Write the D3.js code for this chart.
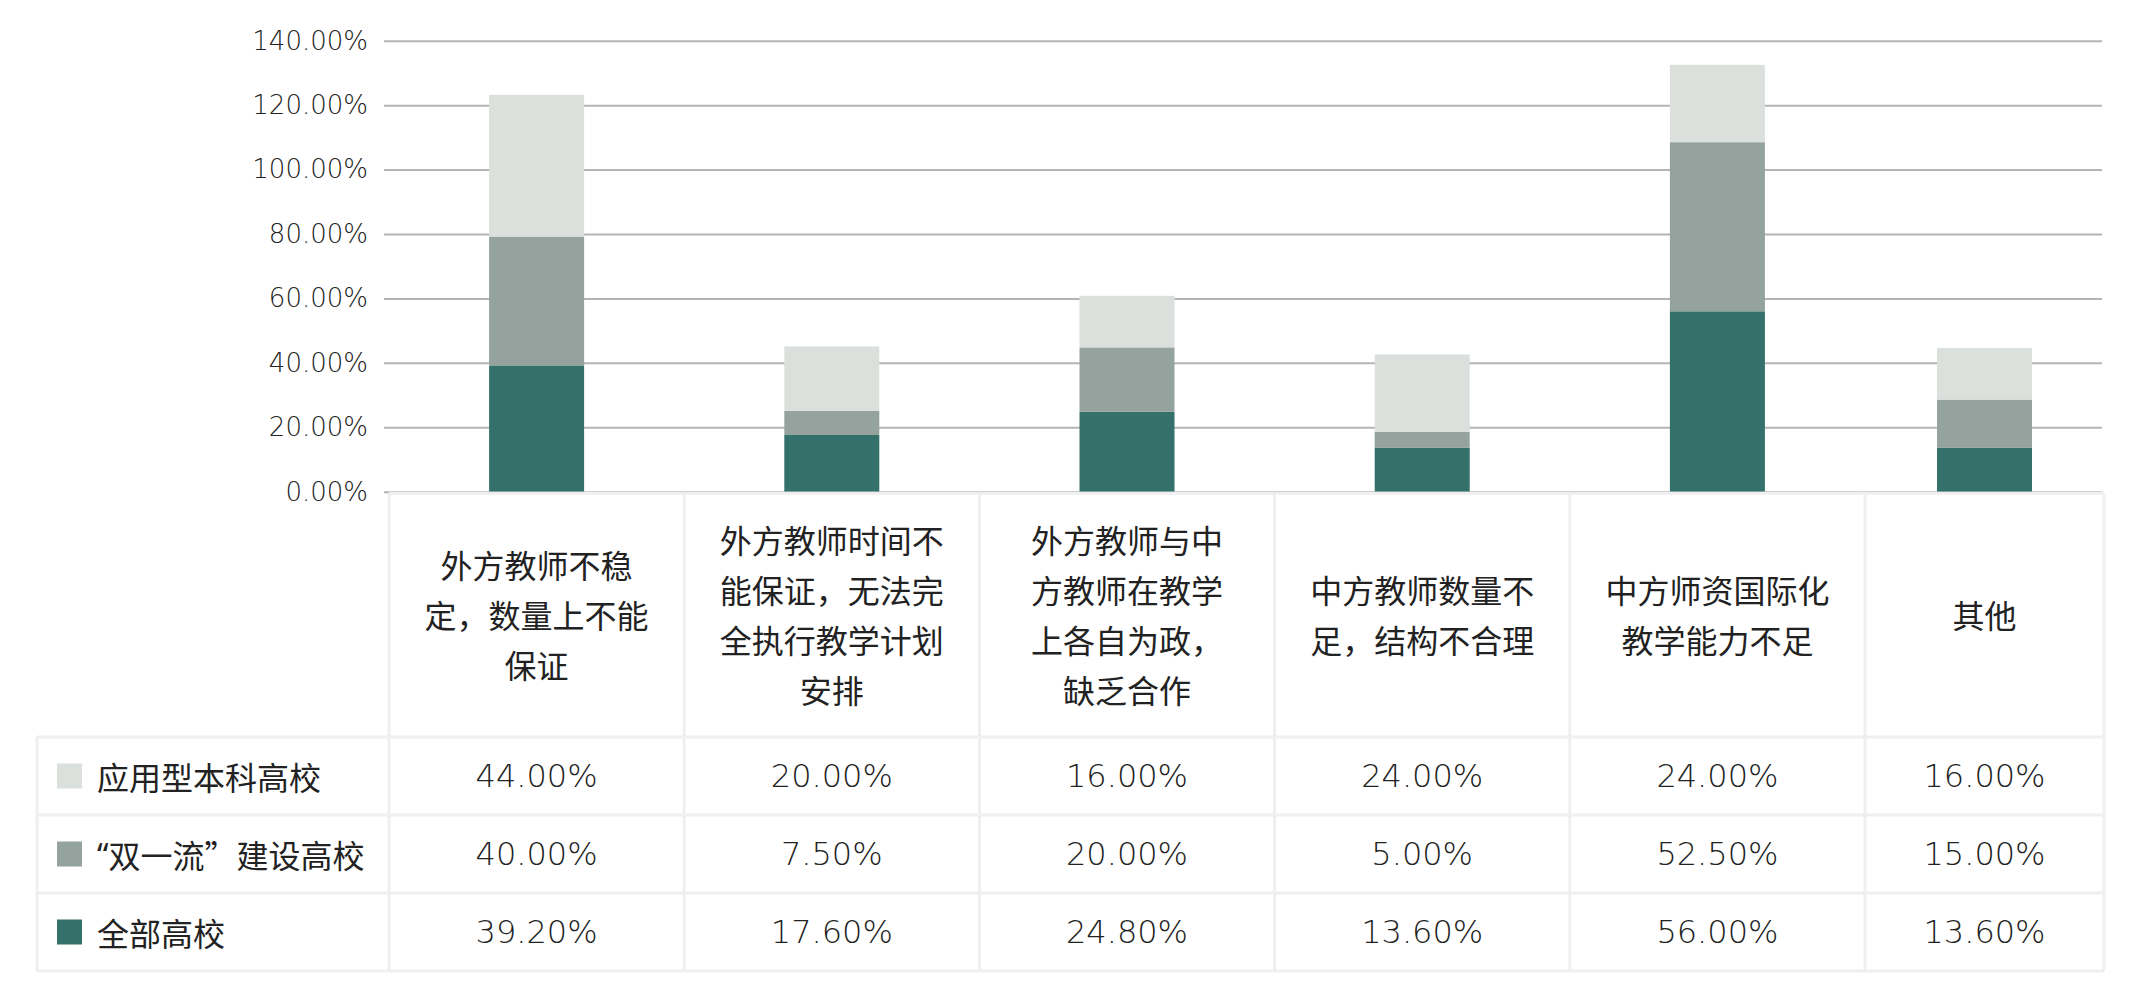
<!DOCTYPE html>
<html>
<head>
<meta charset="utf-8">
<script src="https://cdn.jsdelivr.net/npm/d3@7"></script>
<style>
  body { margin: 0; background: #fff; }
  svg { display: block; }
  .cjk { font-family: "Noto Sans CJK SC", sans-serif; }
  .num { font-family: "DejaVu Sans", sans-serif; font-weight: 300; }
</style>
</head>
<body>
<svg id="chart" width="2133" height="990"></svg>
<script>
// categories, one line per row in the header cell
let categoryLines = [
    ["外方教师不稳", "定，数量上不能", "保证"],
    ["外方教师时间不", "能保证，无法完", "全执行教学计划", "安排"],
    ["外方教师与中", "方教师在教学", "上各自为政，", "缺乏合作"],
    ["中方教师数量不", "足，结构不合理"],
    ["中方师资国际化", "教学能力不足"],
    ["其他"]
];
let categories = categoryLines.map(l => l.join(""));

let seriesNames = ["应用型本科高校", "“双一流”建设高校", "全部高校"];
let appliedValues = [44, 20, 16, 24, 24, 16];
let doubleFirstValues = [40, 7.5, 20, 5, 52.5, 15];
let allValues = [39.2, 17.6, 24.8, 13.6, 56, 13.6];
let yTicks = [0, 20, 40, 60, 80, 100, 120, 140];

let colors = {"应用型本科高校": "#dbe0dd", "“双一流”建设高校": "#94a39d", "全部高校": "#33716a"};

let canvas = d3.select("#chart");

let plotLeft = 384;
let plotRight = 2102;
let plotTop = 40.7;
let plotBottom = 491.7;
let tableLeft = 37;
let colStart = 389;
let colWidth = 295.2;
let tableRight = 2104;
let headerBottom = 737;
let rowHeight = 78;
let barWidth = 95;
let borderColor = "#efefef";

let rows = categories.map((c, i) => ({
    cat: c,
    "应用型本科高校": appliedValues[i],
    "“双一流”建设高校": doubleFirstValues[i],
    "全部高校": allValues[i]
}));

let x = d3.scaleBand()
    .domain(categories)
    .range([colStart, colStart + colWidth * categories.length]);

// the last cell is cut by the table edge, bars sit in the visible part
let cellLeft = c => x(c);
let cellRight = c => Math.min(x(c) + x.bandwidth(), tableRight);
let cellMid = c => (cellLeft(c) + cellRight(c)) / 2;

let y = d3.scaleLinear()
    .domain([0, 140])
    .range([plotBottom, plotTop]);

// gridlines + y labels
let yAxis = canvas.append("g")
    .attr("transform", "translate(" + plotLeft + ",0)")
    .call(d3.axisLeft(y)
        .tickValues(yTicks)
        .tickFormat(d => d.toFixed(2) + "%")
        .tickSize(-(plotRight - plotLeft))
        .tickPadding(16));
yAxis.select(".domain").remove();
yAxis.selectAll(".tick line")
    .attr("stroke", "#b4b4b4")
    .attr("stroke-width", 2);
yAxis.selectAll(".tick text")
    .attr("class", "num")
    .style("font-size", "26px")
    .attr("fill", "#222");

// stacked bars, bottom to top: 全部高校, 双一流, 应用型
let stackKeys = seriesNames.slice().reverse();
let stacked = d3.stack().keys(stackKeys)(rows);

canvas.append("g")
    .selectAll("g")
    .data(stacked)
    .enter()
    .append("g")
    .attr("fill", d => colors[d.key])
    .selectAll("rect")
    .data(d => d)
    .enter()
    .append("rect")
    .attr("x", d => cellMid(d.data.cat) - barWidth / 2)
    .attr("width", barWidth)
    .attr("y", d => y(d[1]))
    .attr("height", d => y(d[0]) - y(d[1]));

// data table
let table = canvas.append("g")
    .attr("stroke", borderColor)
    .attr("stroke-width", 3)
    .attr("fill", "none");

let tableBottom = headerBottom + rowHeight * seriesNames.length;

table.append("line")
    .attr("x1", colStart).attr("x2", tableRight)
    .attr("y1", plotBottom + 1.5).attr("y2", plotBottom + 1.5);

d3.range(seriesNames.length + 1).forEach(i => {
    table.append("line")
        .attr("x1", tableLeft).attr("x2", tableRight)
        .attr("y1", headerBottom + i * rowHeight)
        .attr("y2", headerBottom + i * rowHeight);
});

table.append("line")
    .attr("x1", tableLeft).attr("x2", tableLeft)
    .attr("y1", headerBottom).attr("y2", tableBottom);

categories.forEach(c => {
    table.append("line")
        .attr("x1", cellLeft(c)).attr("x2", cellLeft(c))
        .attr("y1", plotBottom + 1.5).attr("y2", tableBottom);
});
table.append("line")
    .attr("x1", tableRight).attr("x2", tableRight)
    .attr("y1", plotBottom + 1.5).attr("y2", tableBottom);

// header texts
let headerMid = (plotBottom + headerBottom) / 2;
let lineGap = 50;

canvas.append("g")
    .selectAll("text")
    .data(categoryLines)
    .enter()
    .append("text")
    .attr("class", "cjk")
    .attr("text-anchor", "middle")
    .style("font-size", "32px")
    .attr("fill", "#222")
    .each(function (lines, i) {
        let t = d3.select(this);
        let c = categories[i];
        lines.forEach((line, j) => {
            t.append("tspan")
                .attr("x", cellMid(c))
                .attr("y", headerMid + (j - (lines.length - 1) / 2) * lineGap)
                .attr("dominant-baseline", "central")
                .text(line);
        });
    });

// legend column + values
let seriesValues = [appliedValues, doubleFirstValues, allValues];

seriesNames.forEach((name, i) => {
    let rowMid = headerBottom + i * rowHeight + rowHeight / 2;

    canvas.append("rect")
        .attr("x", 57)
        .attr("y", rowMid - 12.5)
        .attr("width", 25)
        .attr("height", 25)
        .attr("fill", colors[name]);

    let label = canvas.append("text")
        .attr("class", "cjk")
        .attr("x", 97)
        .attr("y", rowMid)
        .attr("dominant-baseline", "central")
        .style("font-size", "32px")
        .attr("fill", "#222");

    // opening quote is set narrow, like in the original
    name.split(/(“)/).filter(s => s.length).forEach(part => {
        let span = label.append("tspan").text(part);
        if (part == "“") span.style("font-family", "'Noto Sans', sans-serif");
    });

    canvas.append("g")
        .selectAll("text")
        .data(seriesValues[i])
        .enter()
        .append("text")
        .attr("class", "num")
        .attr("x", (d, j) => cellMid(categories[j]))
        .attr("y", rowMid)
        .attr("text-anchor", "middle")
        .attr("dominant-baseline", "central")
        .style("font-size", "32px")
        .attr("fill", "#222")
        .text(d => d.toFixed(2) + "%");
});
</script>
</body>
</html>
